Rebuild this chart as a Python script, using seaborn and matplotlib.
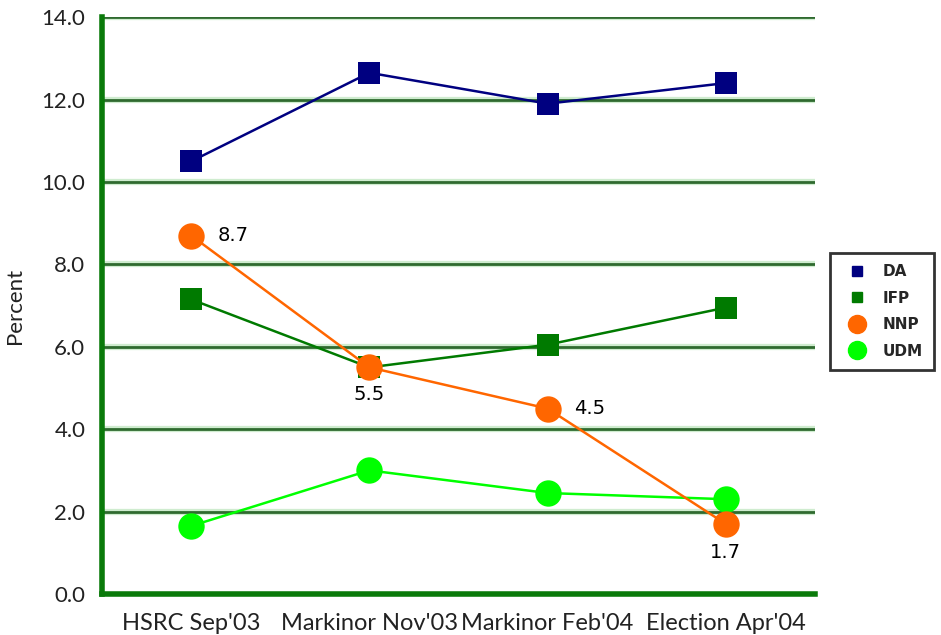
import matplotlib
matplotlib.use("Agg")
import matplotlib.pyplot as plt
from matplotlib.lines import Line2D
import seaborn as sns
import pandas as pd

# Poll results (percent support)
polls = ["HSRC Sep'03", "Markinor Nov'03", "Markinor Feb'04", "Election Apr'04"]
da = [10.5, 12.65, 11.9, 12.4]
ifp = [7.15, 5.5, 6.05, 6.95]
nnp = [8.7, 5.5, 4.5, 1.7]
udm = [1.65, 3.0, 2.45, 2.3]
yticks = [0.0, 2.0, 4.0, 6.0, 8.0, 10.0, 12.0, 14.0]

sns.set_theme(style="white")
plt.rcParams["font.family"] = ["Lato", "DejaVu Sans"]

fig = plt.figure(figsize=(9.41, 6.35), dpi=100)
ax = fig.add_axes([0.1084, 0.0646, 0.7576, 0.9084])

series = [
    ("DA", da, "#000080", "s", 15.5),
    ("IFP", ifp, "#007a00", "s", 15.5),
    ("UDM", udm, "#00ff00", "o", 19),
    ("NNP", nnp, "#ff6600", "o", 19),
]
pos = list(range(len(polls)))
for name, vals, color, marker, msize in series:
    df = pd.DataFrame({"pos": pos, "value": vals})
    sns.lineplot(data=df, x="pos", y="value", ax=ax, color=color, marker=marker,
                 markersize=msize, markeredgewidth=0, linewidth=1.8, legend=False,
                 zorder=3)

# value labels on NNP
offsets = [(19, 0, "left", "center"), (0, -13, "center", "top"),
           (19, 0, "left", "center"), (0, -14, "center", "top")]
for i, v in enumerate(nnp):
    dx, dy, ha, va = offsets[i]
    ax.annotate(f"{v:.1f}", (i, v), xytext=(dx, dy), textcoords="offset points",
                ha=ha, va=va, fontsize=14, color="black",
                family=["DejaVu Sans"], zorder=4)

ax.set_xlim(-0.5, 3.5)
ax.set_ylim(0, 14)
ax.set_yticks(yticks)
ax.set_yticklabels([f"{t:.1f}" for t in yticks], fontsize=16, color="#222222")
# soft light halo under each dark green gridline
for t in yticks[1:]:
    ax.axhline(t, color="#cfeccf", linewidth=4.5, zorder=0.5)
ax.yaxis.grid(True, color="#2f6a2f", linewidth=2.0, zorder=1)
ax.set_axisbelow(True)

# category boundaries carry the ticks, categories the labels
ax.set_xticks([-0.5, 0.5, 1.5, 2.5, 3.5])
ax.set_xticklabels([])
ax.set_xticks(pos, minor=True)
ax.set_xticklabels(polls, minor=True, fontsize=17, color="#222222")
ax.tick_params(axis="x", which="major", length=6, width=3, color="#0a7a0a", direction="out")
ax.tick_params(axis="x", which="minor", length=0, pad=14)
ax.tick_params(axis="y", length=6, width=3, color="#0a7a0a", direction="out", pad=6)
ax.set_xlabel("")
ax.set_ylabel("Percent", fontsize=16, color="#222222", labelpad=12)

for side in ["top", "right"]:
    ax.spines[side].set_visible(False)
for side in ["left", "bottom"]:
    ax.spines[side].set_color("#0a7a0a")
    ax.spines[side].set_linewidth(4)
    ax.spines[side].set_zorder(2)

handles = [
    Line2D([], [], color="#000080", marker="s", linestyle="none", markersize=7.5),
    Line2D([], [], color="#007a00", marker="s", linestyle="none", markersize=7.5),
    Line2D([], [], color="#ff6600", marker="o", linestyle="none", markersize=13),
    Line2D([], [], color="#00ff00", marker="o", linestyle="none", markersize=13),
]
leg = fig.legend(handles, ["DA", "IFP", "NNP", "UDM"], loc="upper left",
                 bbox_to_anchor=(0.882, 0.602), frameon=True, fancybox=False,
                 prop={"weight": "bold", "size": 11, "family": ["DejaVu Sans"]},
                 borderpad=0.75, labelspacing=0.75, handletextpad=0.7,
                 borderaxespad=0)
leg.get_frame().set_edgecolor("black")
leg.get_frame().set_linewidth(2)

fig.savefig("out.png", dpi=100)
